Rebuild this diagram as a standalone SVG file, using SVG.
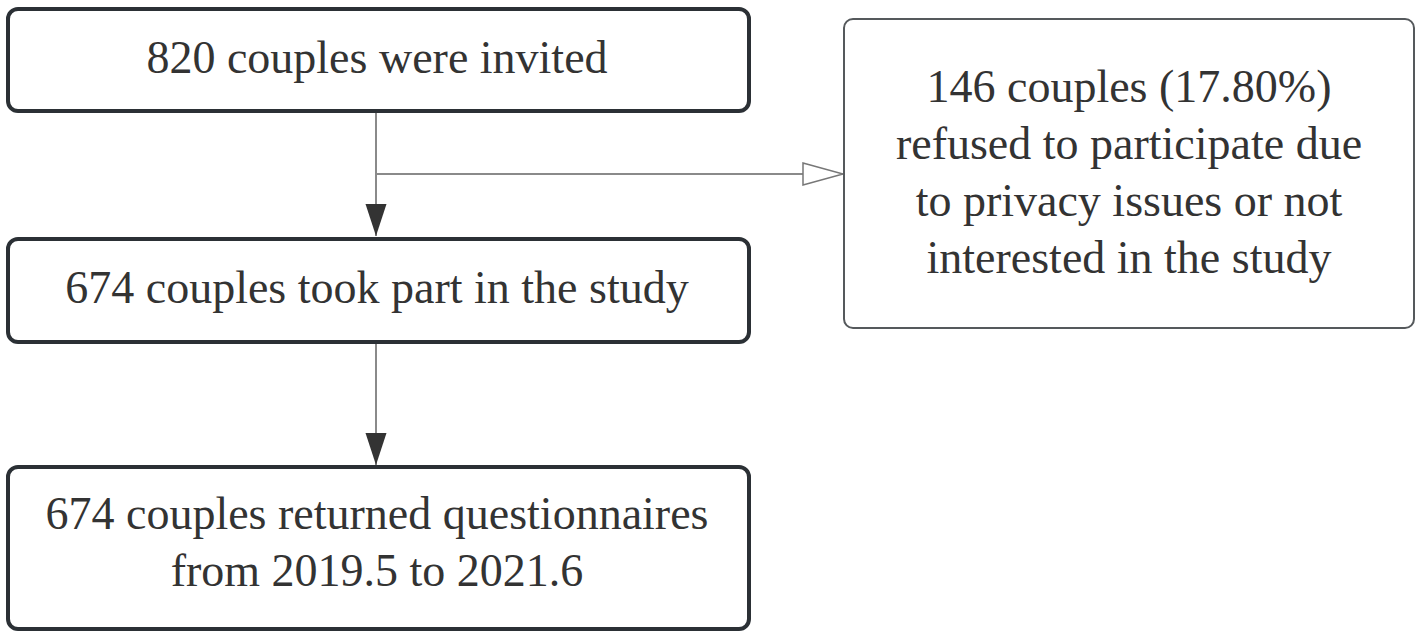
<svg xmlns="http://www.w3.org/2000/svg" width="1423" height="638" viewBox="0 0 1423 638">
  <style>
    .box { fill: #ffffff; stroke: #2b3035; stroke-width: 4; }
    .box2 { fill: #ffffff; stroke: #55595c; stroke-width: 2; }
    .t { font-size: 46px; fill: #333333; text-anchor: middle; }
    .edge { fill: none; stroke: #8a8a8a; stroke-width: 2; }
  </style>
  <defs>
    <marker id="solid" viewBox="0 -11 32 22" markerWidth="32" markerHeight="22" refX="32" refY="0" markerUnits="userSpaceOnUse" orient="auto">
      <path d="M0,-10.5 L32,0 L0,10.5 z" fill="#333333"/>
    </marker>
    <marker id="open" viewBox="-1 -12 42 24" markerWidth="42" markerHeight="24" refX="40" refY="0" markerUnits="userSpaceOnUse" orient="auto">
      <path d="M0,-11 L40,0 L0,11 z" fill="#ffffff" stroke="#777777" stroke-width="1.5"/>
    </marker>
  </defs>
  <rect width="1423" height="638" fill="#ffffff"/>
  <g id="connectors">
    <line class="edge" x1="376" y1="111" x2="376" y2="236" marker-end="url(#solid)"/>
    <line class="edge" x1="376" y1="174" x2="843" y2="174" marker-end="url(#open)"/>
    <line class="edge" x1="376" y1="342" x2="376" y2="465" marker-end="url(#solid)"/>
  </g>
  <g font-family="Liberation Serif, Times New Roman, DejaVu Serif, serif">
  <g id="node-invited">
    <rect class="box" x="8" y="9" width="741" height="102" rx="10"/>
    <text class="t" x="377" y="73">820 couples were invited</text>
  </g>
  <g id="node-refused">
    <rect class="box2" x="844" y="19" width="570" height="309" rx="9"/>
    <text class="t" x="1129" y="102">146 couples (17.80%)</text>
    <text class="t" x="1129" y="159">refused to participate due</text>
    <text class="t" x="1129" y="216">to privacy issues or not</text>
    <text class="t" x="1129" y="273">interested in the study</text>
  </g>
  <g id="node-took-part">
    <rect class="box" x="8" y="239" width="741" height="103" rx="10"/>
    <text class="t" x="377" y="303">674 couples took part in the study</text>
  </g>
  <g id="node-returned">
    <rect class="box" x="8" y="467" width="741" height="162" rx="10"/>
    <text class="t" x="377" y="529">674 couples returned questionnaires</text>
    <text class="t" x="377" y="586">from 2019.5 to 2021.6</text>
  </g>
  </g>
</svg>
